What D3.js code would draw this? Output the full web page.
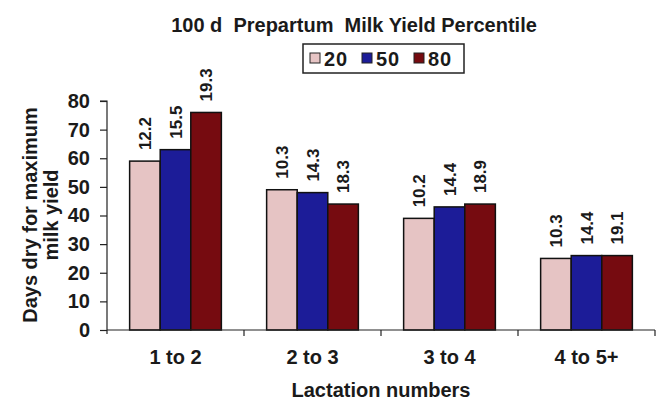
<!DOCTYPE html>
<html>
<head>
<meta charset="utf-8">
<script src="https://cdn.jsdelivr.net/npm/d3@7"></script>
<style>
  body { margin: 0; background: #fff; }
  svg text { font-family: Arial, "Liberation Sans", sans-serif; }
</style>
</head>
<body>
<svg id="chart" width="659" height="401"></svg>
<script>
const categories = ['1 to 2', '2 to 3', '3 to 4', '4 to 5+'];
const series = ['20', '50', '80'];

// days dry for max yield, per percentile
const values20 = [59, 49, 39, 25];
const values50 = [63, 48, 43, 26];
const values80 = [76, 44, 44, 26];

// the numbers printed above the bars
const labels20 = ['12.2', '10.3', '10.2', '10.3'];
const labels50 = ['15.5', '14.3', '14.4', '14.4'];
const labels80 = ['19.3', '18.3', '18.9', '19.1'];

const yTicks = [0, 10, 20, 30, 40, 50, 60, 70, 80];

const colors = ['#e6c4c4', '#1c1c98', '#760b10'];

const svg = d3.select('#chart');

const margin = { top: 101, right: 4, bottom: 71, left: 107 };
const width = 659 - margin.left - margin.right;
const height = 401 - margin.top - margin.bottom;

const g = svg.append('g').attr('transform', `translate(${margin.left},${margin.top})`);

const x0 = d3.scaleBand().domain(categories).range([0, width]).padding(0);
const x1 = d3.scaleBand().domain(series).range([0, x0.bandwidth()]).paddingInner(0).paddingOuter(0.74);
const y = d3.scaleLinear().domain([0, 80]).range([height, 0]);

const valuesBySeries = [values20, values50, values80];
const labelsBySeries = [labels20, labels50, labels80];

const rows = categories.map((c, i) => ({
  cat: c,
  bars: series.map((s, j) => ({ s, j, v: valuesBySeries[j][i], label: labelsBySeries[j][i] }))
}));

// bars
const groups = g.selectAll('.grp')
  .data(rows)
  .enter()
    .append('g')
    .attr('class', 'grp')
    .attr('transform', d => `translate(${x0(d.cat)},0)`);

groups.selectAll('rect')
  .data(d => d.bars)
  .enter()
    .append('rect')
    .attr('x', d => x1(d.s))
    .attr('y', d => y(d.v))
    .attr('width', x1.bandwidth())
    .attr('height', d => height - y(d.v))
    .attr('fill', d => colors[d.j])
    .attr('stroke', '#111')
    .attr('stroke-width', 1.5);

// rotated value labels
groups.selectAll('.val')
  .data(d => d.bars)
  .enter()
    .append('text')
    .attr('class', 'val')
    .attr('transform', d => `translate(${x1(d.s) + x1.bandwidth() / 2 + 6},${y(d.v) - 11}) rotate(-90)`)
    .attr('font-size', 17)
    .attr('font-weight', 'bold')
    .attr('fill', '#1a1a1a')
    .text(d => d.label);

// y axis
const yAxis = g.append('g')
  .call(d3.axisLeft(y).tickValues(yTicks).tickSize(7).tickPadding(10));
yAxis.select('.domain').attr('stroke', '#222').attr('stroke-width', 1.2).attr('d', `M0,${height + 4}V0H-7`);
yAxis.selectAll('.tick line').attr('stroke', '#222').attr('stroke-width', 1.2);
yAxis.selectAll('.tick text')
  .attr('font-size', 20)
  .attr('font-weight', 'bold')
  .attr('fill', '#1a1a1a');

// x axis, ticks sit on the category boundaries
const xAxis = g.append('g').attr('transform', `translate(0,${height})`);
xAxis.append('line')
  .attr('x1', 0).attr('x2', width)
  .attr('stroke', '#222').attr('stroke-width', 1.2);
xAxis.selectAll('.bound')
  .data(categories.slice(1).concat(['end']))
  .enter()
    .append('line')
    .attr('x1', d => d === 'end' ? width : x0(d))
    .attr('x2', d => d === 'end' ? width : x0(d))
    .attr('y1', 0).attr('y2', 6)
    .attr('stroke', '#222').attr('stroke-width', 1.2);
xAxis.selectAll('.cat')
  .data(categories)
  .enter()
    .append('text')
    .attr('x', d => x0(d) + x0.bandwidth() / 2)
    .attr('y', 34)
    .attr('text-anchor', 'middle')
    .attr('font-size', 20)
    .attr('font-weight', 'bold')
    .attr('fill', '#1a1a1a')
    .text(d => d);

// axis titles
svg.append('text')
  .attr('x', margin.left + width / 2)
  .attr('y', 397)
  .attr('text-anchor', 'middle')
  .attr('font-size', 20)
  .attr('font-weight', 'bold')
  .attr('fill', '#1a1a1a')
  .text('Lactation numbers');

const yTitle = svg.append('text')
  .attr('transform', 'translate(0,215) rotate(-90)')
  .attr('text-anchor', 'middle')
  .attr('font-size', 20)
  .attr('font-weight', 'bold')
  .attr('fill', '#1a1a1a');
yTitle.append('tspan').attr('x', 0).attr('y', 37).text('Days dry for maximum');
yTitle.append('tspan').attr('x', 0).attr('y', 58).text('milk yield');

// chart title
svg.append('text')
  .attr('x', 354)
  .attr('y', 32)
  .attr('text-anchor', 'middle')
  .attr('font-size', 20)
  .attr('font-weight', 'bold')
  .attr('fill', '#1a1a1a')
  .attr('xml:space', 'preserve')
  .style('white-space', 'pre')
  .text('100 d  Prepartum  Milk Yield Percentile');

// legend
const legend = svg.append('g').attr('transform', 'translate(303,44)');
legend.append('rect')
  .attr('width', 161).attr('height', 29)
  .attr('fill', '#fff').attr('stroke', '#222').attr('stroke-width', 1.5);
const items = legend.selectAll('.item')
  .data(series)
  .enter()
    .append('g')
    .attr('class', 'item')
    .attr('transform', (_, i) => `translate(${7 + i * 52},0)`);
items.append('rect')
  .attr('y', 9).attr('width', 10).attr('height', 10)
  .attr('fill', (_, i) => colors[i])
  .attr('stroke', '#222').attr('stroke-width', 1);
items.append('text')
  .attr('x', 14).attr('y', 22)
  .attr('font-size', 20)
  .attr('font-weight', 'bold')
  .attr('fill', '#1a1a1a')
  .attr('letter-spacing', 1)
  .text(d => d);
</script>
</body>
</html>
